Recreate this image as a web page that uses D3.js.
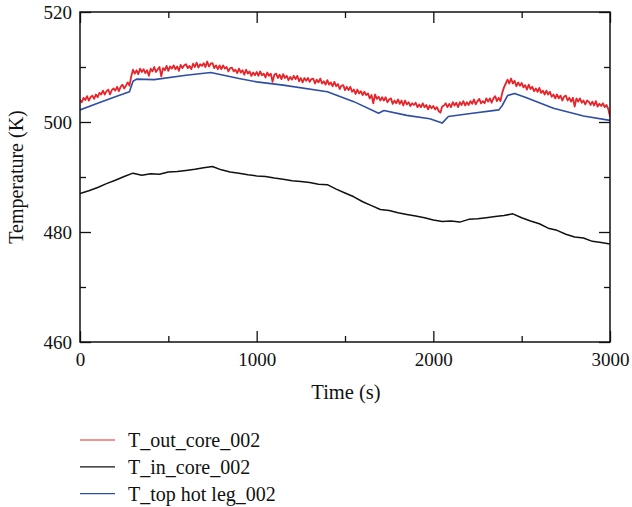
<!DOCTYPE html>
<html>
<head>
<meta charset="utf-8">
<script src="https://cdn.jsdelivr.net/npm/d3@7"></script>
<style>
  body { margin: 0; background: #fff; }
  svg text { font-family: "Liberation Serif", "DejaVu Serif", serif; fill: #111; }
</style>
</head>
<body>
<div class="graph"></div>
<script>
// data
const seriesNames = ['T_out_core_002', 'T_in_core_002', 'T_top hot leg_002']
const seriesColors = ['#e8242b', '#111111', '#2e4ea6']

// T_out_core_002, every 10 s from 0 to 3000
const outTemp = [
  504.0, 503.6, 504.4, 504.0, 504.7, 503.9, 504.5, 504.8, 504.2, 505.0,
  504.5, 505.3, 505.0, 505.7, 505.0, 505.6, 505.9, 505.0, 505.8, 506.1,
  505.7, 506.4, 505.6, 506.4, 506.8, 506.1, 506.6, 507.2, 506.6, 508.3,
  509.5, 508.8, 509.4, 508.7, 509.7, 509.1, 509.6, 508.9, 509.4, 508.4,
  509.7, 509.2, 510.0, 509.1, 509.6, 510.0, 508.3, 509.8, 509.4, 510.2,
  509.3, 510.1, 509.7, 510.3, 509.6, 510.1, 509.3, 510.4, 509.8, 510.3,
  510.5, 509.8, 510.2, 509.6, 510.6, 510.0, 510.8, 509.9, 510.5, 510.2,
  510.7, 510.0, 511.0, 510.1, 510.6, 510.7, 509.8, 510.3, 509.6, 510.3,
  509.6, 510.3, 509.7, 510.0, 509.2, 509.8, 509.9, 509.2, 509.5, 508.9,
  509.7, 509.0, 509.4, 508.6, 509.5, 508.8, 509.2, 508.4, 509.0, 508.5,
  509.1, 508.4, 509.2, 508.5, 508.8, 508.1, 509.0, 508.4, 508.8, 507.3,
  508.6, 508.8, 508.0, 508.6, 507.8, 508.7, 508.0, 508.4, 507.6, 508.2,
  507.7, 508.4, 507.8, 508.4, 507.4, 508.0, 507.2, 508.0, 507.5, 508.0,
  507.3, 507.8, 507.9, 507.0, 507.7, 507.2, 507.9, 507.0, 507.4, 506.8,
  507.6, 506.8, 507.2, 506.5, 507.3, 506.5, 506.9, 506.0, 506.6, 506.7,
  505.8, 506.4, 505.8, 506.4, 505.5, 505.9, 505.1, 505.9, 505.2, 505.6,
  504.9, 505.5, 504.9, 505.2, 504.3, 504.9, 503.4, 505.0, 504.2, 504.6,
  503.9, 504.5, 503.9, 504.5, 503.6, 504.1, 504.3, 503.3, 503.9, 503.4,
  504.1, 503.3, 503.9, 503.0, 503.9, 503.2, 503.6, 502.9, 503.4, 503.1,
  503.5, 502.7, 503.2, 502.7, 503.4, 502.7, 503.1, 502.3, 503.0, 502.5,
  502.9, 502.3, 502.7, 502.0, 501.7, 502.8, 503.0, 503.4, 502.7, 503.3,
  502.7, 503.6, 503.0, 503.5, 502.7, 503.6, 503.1, 503.8, 503.0, 503.6,
  503.1, 503.8, 503.3, 504.1, 503.2, 503.8, 504.2, 503.4, 503.8, 503.4,
  504.3, 503.7, 504.3, 503.5, 504.3, 504.7, 503.8, 504.4, 503.8, 505.3,
  506.3, 507.0, 507.7, 507.0, 507.9, 507.0, 507.5, 506.5, 507.2, 506.6,
  507.1, 506.3, 506.7, 505.9, 506.8, 506.0, 506.4, 505.6, 506.1, 505.5,
  506.2, 505.3, 505.7, 505.0, 505.7, 505.0, 505.5, 504.6, 505.0, 504.3,
  505.0, 504.3, 504.8, 503.9, 504.6, 504.8, 503.9, 504.4, 503.7, 504.4,
  502.8, 504.3, 503.7, 504.3, 503.5, 503.9, 503.2, 503.9, 503.7, 503.1,
  503.7, 503.0, 503.8, 502.8, 503.3, 502.9, 503.4, 502.7, 503.1, 502.4,
  501.0
]
const outTime = outTemp.map((d, i) => i * 10)

// T_in_core_002, every 50 s
const inTemp = [
  487.0, 487.5, 488.1, 488.8, 489.4, 490.1, 490.7, 490.3, 490.6, 490.5,
  490.9, 491.0, 491.2, 491.4, 491.7, 491.9, 491.3, 490.9, 490.7, 490.4,
  490.2, 490.1, 489.8, 489.6, 489.3, 489.2, 489.0, 488.7, 488.6, 487.8,
  487.1, 486.4, 485.5, 484.8, 484.1, 483.9, 483.5, 483.2, 482.9, 482.6,
  482.2, 481.9, 482.0, 481.8, 482.3, 482.4, 482.6, 482.8, 483.0, 483.3,
  482.6, 482.0, 481.5, 480.7, 480.3, 479.6, 479.1, 478.9, 478.3, 478.1,
  477.8
]
const inTime = inTemp.map((d, i) => i * 50)

// T_top hot leg_002, breakpoints
const hotTime = [0, 100, 200, 280, 300, 320, 420, 600, 740, 800, 900, 1000, 1150, 1400, 1550,
  1690, 1720, 1850, 1980, 2050, 2085, 2200, 2370, 2390, 2420, 2460, 2520, 2680, 2850, 3000]
const hotTemp = [502.2, 503.4, 504.6, 505.5, 507.4, 507.8, 507.7, 508.5, 509.0, 508.6, 507.9, 507.3, 506.7, 505.5, 503.7,
  501.6, 502.1, 501.2, 500.6, 499.8, 501.0, 501.5, 502.2, 503.0, 504.8, 505.2, 504.5, 502.5, 501.1, 500.3]

const xMajor = [0, 1000, 2000, 3000]
const xMinor = [500, 1500, 2500]
const yMajor = [460, 480, 500, 520]
const yMinor = [470, 490, 510]

const W = 632, H = 507
const M = { left: 80, top: 12, right: 610, bottom: 342 }

const svg = d3.select('.graph').append('svg').attr('width', W).attr('height', H)

const x = d3.scaleLinear().domain([0, 3000]).range([M.left, M.right])
const y = d3.scaleLinear().domain([460, 520]).range([M.bottom, M.top])

svg.append('clipPath').attr('id', 'plot')
  .append('rect').attr('x', M.left).attr('y', M.top)
  .attr('width', M.right - M.left).attr('height', M.bottom - M.top)

const line = d3.line().x(d => x(d[0])).y(d => y(d[1]))
const series = [
  { pts: d3.zip(outTime, outTemp), w: 1.8 },
  { pts: d3.zip(inTime, inTemp), w: 1.5 },
  { pts: d3.zip(hotTime, hotTemp), w: 1.6 }
]
// draw order: black, red, blue on top
const g = svg.append('g').attr('clip-path', 'url(#plot)')
;[1, 0, 2].forEach(i => {
  g.append('path')
    .datum(series[i].pts)
    .attr('fill', 'none')
    .attr('stroke', seriesColors[i])
    .attr('stroke-width', series[i].w)
    .attr('stroke-linejoin', 'round')
    .attr('d', line)
})

// axes, ticks inward
function axis(gen, tr, vals, size, labels) {
  const a = svg.append('g').attr('transform', tr)
    .call(gen.tickValues(vals).tickSize(-size).tickSizeOuter(0).tickPadding(labels ? 20 : 0)
      .tickFormat(labels ? d3.format('d') : ''))
  a.select('.domain').remove()
  a.selectAll('line').attr('stroke', '#111').attr('stroke-width', 1.3)
  a.selectAll('text').style('font-size', '19px').attr('fill', '#111')
  return a
}
axis(d3.axisBottom(x), `translate(0,${M.bottom})`, xMajor, 11, true)
  .selectAll('text').attr('dy', '0.2em')
axis(d3.axisBottom(x), `translate(0,${M.bottom})`, xMinor, 6, false)
axis(d3.axisTop(x), `translate(0,${M.top})`, xMajor, 11, false)
axis(d3.axisTop(x), `translate(0,${M.top})`, xMinor, 6, false)
axis(d3.axisLeft(y), `translate(${M.left},0)`, yMajor, 11, true)
  .selectAll('text').attr('dx', '12px')
axis(d3.axisLeft(y), `translate(${M.left},0)`, yMinor, 6, false)
axis(d3.axisRight(y), `translate(${M.right},0)`, yMajor, 11, false)
axis(d3.axisRight(y), `translate(${M.right},0)`, yMinor, 6, false)

svg.append('rect')
  .attr('x', M.left).attr('y', M.top)
  .attr('width', M.right - M.left).attr('height', M.bottom - M.top)
  .attr('fill', 'none').attr('stroke', '#111').attr('stroke-width', 1.5)

svg.append('text')
  .attr('x', (M.left + M.right) / 2 + 1).attr('y', 399)
  .attr('text-anchor', 'middle').style('font-size', '20.5px')
  .text('Time (s)')
svg.append('text')
  .attr('transform', `translate(23,${(M.top + M.bottom) / 2}) rotate(-90)`)
  .attr('text-anchor', 'middle').style('font-size', '20px')
  .text('Temperature (K)')

// legend
const leg = svg.append('g')
seriesNames.forEach((name, i) => {
  const ly = 440 + i * 26.8
  leg.append('line')
    .attr('x1', 80).attr('x2', 115).attr('y1', ly).attr('y2', ly)
    .attr('stroke', seriesColors[i]).attr('stroke-width', 1.2)
  leg.append('text')
    .attr('x', 128).attr('y', ly).attr('dy', '0.35em')
    .style('font-size', '20px')
    .text(name)
})
</script>
</body>
</html>
